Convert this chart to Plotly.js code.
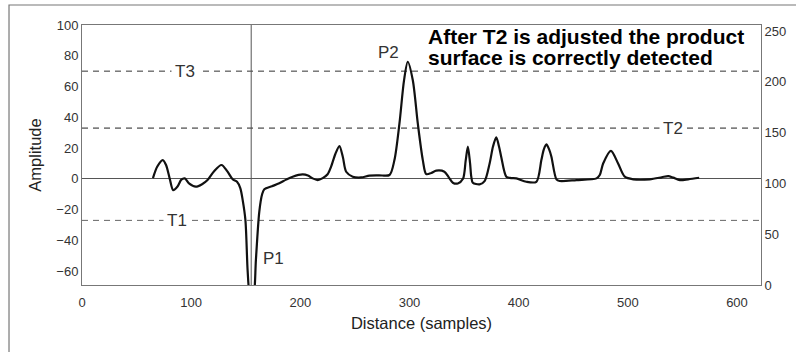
<!DOCTYPE html>
<html><head><meta charset="utf-8">
<script src="https://cdn.plot.ly/plotly-3.0.1.min.js"></script>
<style>html,body{margin:0;padding:0;background:#fff;}#chart{width:796px;height:352px;}</style>
</head><body><div id="chart"></div>
<script>
// Signal trace (distance in samples, amplitude)
const distance = [65,69,74,77,80.4,83.5,87.5,91,94.2,98,104.3,110,115,121,127.8,133,138,142,145,147.2,149.7,151.7,153.5,155.5,157.5,159.3,162.4,165,167,174,180.7,187,193,202,207,211.3,215.9,220.5,225,228.2,232,235.8,239,242,248,255.7,263.3,272,281.7,286.2,290.8,295,298.4,303,307.6,312.2,315.3,320,324.5,332,336,339.7,344.3,349,351.5,353.5,355.5,356.6,358,364.2,368.8,373.4,376.5,379.5,382,384,388.7,393,397.9,407,416.2,420.8,423,425.4,428,430,434.6,437.6,452.9,471.3,474.3,477.4,484.5,491.1,497.2,505,520,531,537,541.6,547.7,555.3,565.4];
const amplitude = [0.5,8,12.2,9,0,-7.3,-5,-0.5,0.3,-3,-5.1,-3.5,-0.8,5,9,5,-0.3,-1.9,-6,-13.8,-26.8,-59.3,-75,-78,-75,-52.8,-21.4,-10,-6.8,-4.8,-2.9,-0.5,1.4,2.9,2.2,0.3,-0.8,0.5,3,7.9,16,21.3,14,4.6,1.4,0.9,2.1,2.3,2.5,12.2,36,64,76.1,64.2,36,12.2,3.1,3.8,5.3,4.6,1,-2.5,-3,0,12,20.9,10,1.4,-2.5,-3.6,-1.5,10,21,27,21,14.4,1.4,0.5,0.3,-1.9,-1.9,12.2,19,22.4,19,14.4,-0.3,-1.4,-0.8,0.3,2.5,10,18.2,10,1.4,-0.3,-0.3,1,1.8,0.8,-0.8,-0.3,0.7];

// Thresholds
const thresholdNames = ["T3","T2","T1"];
const thresholdLevels = [70, 33, -27];
const thresholdLabelX = [94.5, 541, 87];
const thresholdColors = ["#333","#222","#666"];

// Peaks
const peakNames = ["P1","P2"];
const peakLabelX = [175.7, 280.7];
const peakLabelY = [-52, 82.4];
const markerX = 155;

const xTicks = [0,100,200,300,400,500,600];
const yTicks = [-60,-40,-20,0,20,40,60,80,100];
const y2Ticks = [0,50,100,150,200,250];

const noteLines = ["After T2 is adjusted the product","surface is correctly detected"];
const noteY = [92.3, 78.8];
const noteX = 315;

const FONT = "Liberation Sans, Arial, sans-serif";

const traces = [
  {x: distance, y: amplitude, type: 'scatter', mode: 'lines',
   line: {color: '#111', width: 2.2, shape: 'spline', smoothing: 0.8},
   hoverinfo: 'skip', showlegend: false},
  {x: [0], y: [0], yaxis: 'y2', type: 'scatter', mode: 'markers',
   marker: {opacity: 0}, showlegend: false, hoverinfo: 'skip'}
];

const shapes = [];
thresholdLevels.forEach((lv, i) => {
  shapes.push({type: 'line', xref: 'paper', x0: 0, x1: 1, yref: 'y', y0: lv, y1: lv,
    line: {color: thresholdColors[i], width: 1, dash: '6px,5px'}, layer: 'below'});
});
shapes.push({type: 'line', xref: 'x', x0: markerX, x1: markerX, yref: 'paper', y0: 0, y1: 1,
  line: {color: '#555', width: 1}, layer: 'below'});
// outer figure border (left/top)
shapes.push({type: 'rect', xref: 'paper', yref: 'paper', x0: -0.1075, x1: 1.3, y0: -0.6, y1: 1.0769,
  line: {color: '#777', width: 1.2}, fillcolor: 'rgba(0,0,0,0)'});

const annotations = [];
thresholdNames.forEach((n, i) => {
  annotations.push({x: thresholdLabelX[i], y: thresholdLevels[i], xref: 'x', yref: 'y', text: n,
    showarrow: false, bgcolor: '#fff', borderpad: 3,
    font: {family: FONT, size: 17, color: '#333'}});
});
peakNames.forEach((n, i) => {
  annotations.push({x: peakLabelX[i], y: peakLabelY[i], xref: 'x', yref: 'y', text: n,
    showarrow: false, font: {family: FONT, size: 17, color: '#333'}});
});
noteLines.forEach((t, i) => {
  annotations.push({x: noteX, y: noteY[i], xref: 'x', yref: 'y', text: '<b>' + t + '</b>',
    xanchor: 'left', showarrow: false, font: {family: FONT, size: 21, color: '#000'}});
});

const layout = {
  width: 796, height: 352,
  margin: {l: 82, r: 35, t: 25, b: 67},
  paper_bgcolor: '#fff', plot_bgcolor: '#fff',
  font: {family: FONT, color: '#333'},
  showlegend: false,
  xaxis: {range: [0, 622], tickvals: xTicks, showgrid: false, zeroline: false,
    showline: true, linecolor: '#777', linewidth: 1, mirror: true, ticks: '',
    ticklabelstandoff: 5,
    tickfont: {family: FONT, size: 13, color: '#333'},
    title: {text: 'Distance (samples)', font: {family: FONT, size: 16.5, color: '#222'}, standoff: 8}},
  yaxis: {range: [-69, 100], tickvals: yTicks, showgrid: false,
    zeroline: true, zerolinecolor: '#555', zerolinewidth: 1,
    showline: true, linecolor: '#777', linewidth: 1, ticks: '',
    tickfont: {family: FONT, size: 13, color: '#333'},
    title: {text: 'Amplitude', font: {family: FONT, size: 16.5, color: '#222'}, standoff: 10}},
  yaxis2: {range: [0, 256], tickvals: y2Ticks, overlaying: 'y', side: 'right',
    showgrid: false, zeroline: false, showline: true, linecolor: '#777', linewidth: 1, ticks: '',
    tickfont: {family: FONT, size: 13, color: '#333'}},
  shapes: shapes,
  annotations: annotations
};

Plotly.newPlot('chart', traces, layout, {staticPlot: true, displayModeBar: false});
</script>
</body></html>
